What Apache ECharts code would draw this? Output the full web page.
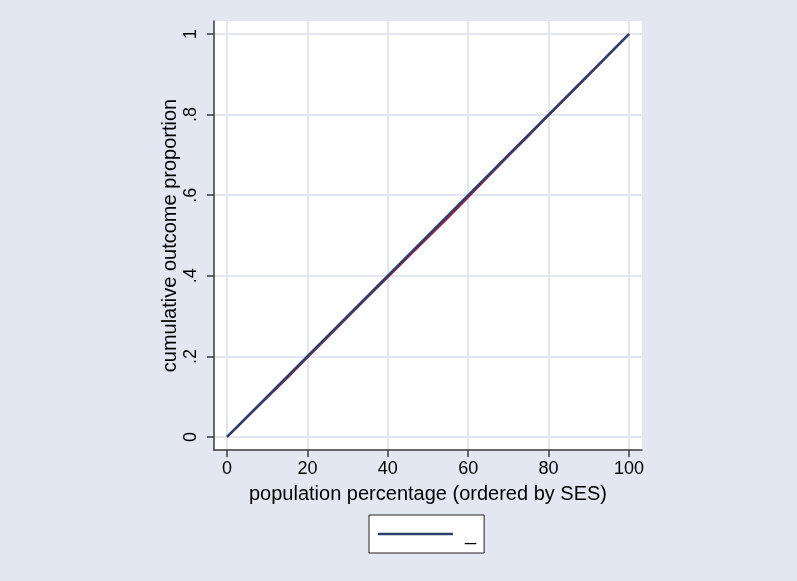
<!DOCTYPE html>
<html>
<head>
<meta charset="utf-8">
<script src="https://cdn.jsdelivr.net/npm/echarts@6/dist/echarts.min.js"></script>
<style>
html,body{margin:0;padding:0;background:#e3e7f1;}
#c{width:797px;height:581px;}
</style>
</head>
<body>
<div id="c"></div>
<script>
// Data
const xTicks = [0, 20, 40, 60, 80, 100];
const yTicks = [0, 0.2, 0.4, 0.6, 0.8, 1];
const popPct = [0, 5, 10, 15, 20, 25, 30, 35, 40, 45, 50, 55, 60, 65, 70, 75, 80, 85, 90, 95, 100];
const concCurve = [0, 0.049, 0.098, 0.146, 0.197, 0.247, 0.297, 0.347, 0.396, 0.446, 0.495, 0.544, 0.595, 0.646, 0.697, 0.747, 0.798, 0.848, 0.898, 0.949, 1];
const equalityX = [0, 100];
const equalityY = [0, 1];
const xTitle = 'population percentage (ordered by SES)';
const yTitle = 'cumulative outcome proportion';
const legendName = '_';

const font = 'Liberation Sans, Arial, sans-serif';
const gridCol = '#e2e6f1';
const axisCol = '#3a3a3a';

const chart = echarts.init(document.getElementById('c'), null, {renderer: 'canvas'});
chart.setOption({
  backgroundColor: '#e3e7f1',
  animation: false,
  grid: {left: 214, right: 155, top: 21, bottom: 131, show: true, backgroundColor: '#ffffff', borderWidth: 0},
  legend: {
    data: [legendName],
    left: 369, top: 515,
    backgroundColor: '#ffffff', borderColor: '#222', borderWidth: 1,
    padding: [9, 8, 9, 9],
    itemWidth: 75, itemHeight: 20,
    icon: 'path://M0,0 L75,0 L75,2.5 L0,2.5 Z',
    textStyle: {fontFamily: font, fontSize: 20, color: '#000', padding: [0, 0, 0, 7]}
  },
  xAxis: {
    type: 'value', min: -3.234, max: 103.234,
    name: xTitle, nameLocation: 'middle', nameGap: 34, nameMoveOverlap: false,
    nameTextStyle: {fontFamily: font, fontSize: 20, color: '#000'},
    axisLine: {show: true, onZero: false, lineStyle: {color: axisCol, width: 1.5}},
    axisTick: {show: true, length: 7, customValues: xTicks, lineStyle: {color: axisCol, width: 1.5}},
    axisLabel: {customValues: xTicks, margin: 10, fontFamily: font, fontSize: 18, color: '#000'},
    splitLine: {show: true, lineStyle: {color: gridCol, width: 2}}
  },
  yAxis: {
    type: 'value', min: -0.0323, max: 1.0323,
    name: yTitle, nameLocation: 'middle', nameGap: 34, nameMoveOverlap: false,
    nameTextStyle: {fontFamily: font, fontSize: 20, color: '#000'},
    axisLine: {show: true, onZero: false, lineStyle: {color: axisCol, width: 1.5}},
    axisTick: {show: true, length: 7, customValues: yTicks, lineStyle: {color: axisCol, width: 1.5}},
    axisLabel: {customValues: yTicks, rotate: 90, margin: 14, fontFamily: font, fontSize: 18, color: '#000',
      formatter: v => (v === 0 ? '0' : v === 1 ? '1' : String(v).replace(/^0/, ''))},
    splitLine: {show: true, lineStyle: {color: gridCol, width: 2}}
  },
  series: [
    {
      name: 'concentration', type: 'line', showSymbol: false, symbol: 'none',
      data: popPct.map((x, i) => [x, concCurve[i]]),
      lineStyle: {color: '#b01c3a', width: 2}, itemStyle: {color: '#b01c3a'}, z: 2
    },
    {
      name: legendName, type: 'line', showSymbol: false, symbol: 'none',
      data: equalityX.map((x, i) => [x, equalityY[i]]),
      lineStyle: {color: '#2a3f6e', width: 2.5}, itemStyle: {color: '#2a3f6e'}, z: 3
    }
  ]
});
</script>
</body>
</html>
